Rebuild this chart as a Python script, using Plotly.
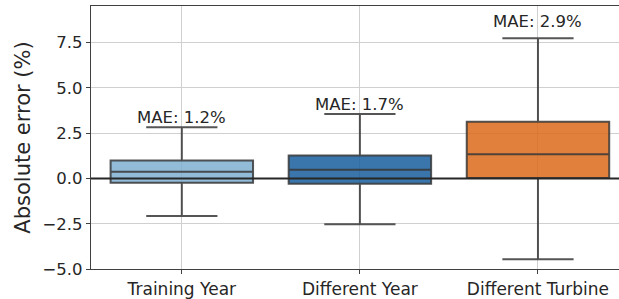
import plotly.graph_objects as go

categories = ["Training Year", "Different Year", "Different Turbine"]
q1 = [-0.24, -0.30, 0.02]
median = [0.37, 0.48, 1.34]
q3 = [0.99, 1.27, 3.13]
lower = [-2.07, -2.53, -4.46]
upper = [2.82, 3.56, 7.74]
mae = [1.2, 1.7, 2.9]
mae_label_y = [2.82, 3.56, 8.15]
y_ticks = [-5.0, -2.5, 0.0, 2.5, 5.0, 7.5]

fills = ["rgba(126,175,208,0.85)", "rgba(23,94,156,0.85)", "rgba(220,106,26,0.85)"]
edge = "rgba(55,55,55,0.85)"
font = "DejaVu Sans"

fig = go.Figure()
for i, c in enumerate(categories):
    fig.add_trace(go.Box(
        x=[c], q1=[q1[i]], median=[median[i]], q3=[q3[i]],
        lowerfence=[lower[i]], upperfence=[upper[i]],
        fillcolor=fills[i], line=dict(color=edge, width=2),
        whiskerwidth=0.5, width=0.8, boxpoints=False, showlegend=False,
        hoverinfo="skip",
    ))
    fig.add_annotation(
        x=c, y=mae_label_y[i], text=f"MAE: {mae[i]}%", showarrow=False,
        yanchor="bottom", yshift=-2, font=dict(family=font, size=16.5, color="#262626"),
    )

fig.add_hline(y=0, line=dict(color="#262626", width=2), layer="above")

fig.update_layout(
    width=619, height=299,
    margin=dict(l=91, r=0, t=6, b=30),
    paper_bgcolor="white", plot_bgcolor="white",
    boxmode="overlay",
    font=dict(family=font, size=16.5, color="#262626"),
    xaxis=dict(
        type="category", categoryorder="array", categoryarray=categories,
        range=[-0.51, 2.455], showgrid=True, gridcolor="#d0d0d0", gridwidth=1,
        showline=True, linecolor="#404040", linewidth=1.2, mirror=True,
        ticks="outside", ticklen=4, tickcolor="#404040",
        tickfont=dict(family=font, size=17, color="#262626"), zeroline=False,
    ),
    yaxis=dict(
        range=[-5.0, 9.52], tickvals=y_ticks, ticktext=[f"{v:.1f}".replace("-", "\u2212") for v in y_ticks],
        showgrid=True, gridcolor="#d0d0d0", gridwidth=1,
        showline=True, linecolor="#404040", linewidth=1.2, mirror=False,
        ticks="outside", ticklen=4, tickcolor="#404040",
        tickfont=dict(family=font, size=16.5, color="#262626"), zeroline=False,
        title=dict(text="Absolute error (%)", font=dict(family=font, size=21, color="#262626"), standoff=6),
    ),
)

fig.write_html("out.html", config={"displayModeBar": False},
               post_script="document.body.style.margin='0';document.body.style.overflow='hidden';")
